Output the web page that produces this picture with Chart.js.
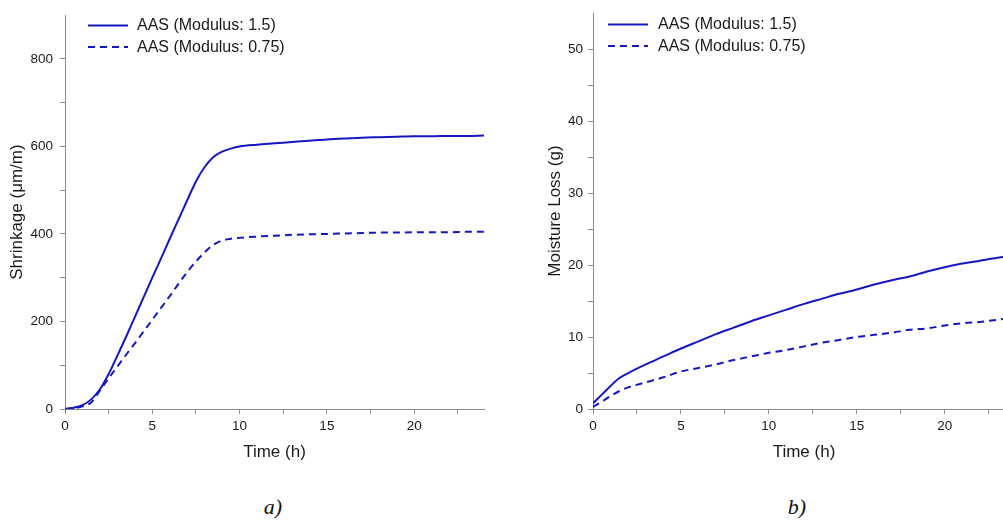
<!DOCTYPE html>
<html>
<head>
<meta charset="utf-8">
<script src="https://cdn.jsdelivr.net/npm/chart.js@4.4.1/dist/chart.umd.min.js"></script>
<style>
  html, body { margin: 0; padding: 0; background: #fff; overflow: hidden; }
  body { width: 1003px; height: 522px; position: relative; }
  canvas { position: absolute; top: 0; }
  #cvA { left: 0; }
  #cvB { left: 538px; }
  .cap { position: absolute; top: 494px; width: 40px; margin-left: -20px; text-align: center;
         font: italic 22px "Liberation Serif", "DejaVu Serif", serif; color: #111; }
</style>
</head>
<body>
<canvas id="cvA" width="500" height="470"></canvas>
<canvas id="cvB" width="487" height="470"></canvas>
<div class="cap" style="left:273px">a)</div>
<div class="cap" style="left:797px">b)</div>
<script>
// labels
const seriesLabels = ["AAS (Modulus: 1.5)", "AAS (Modulus: 0.75)"];

// a) shrinkage (um/m) vs time (h)
const timeA = [0, 0.5, 1, 1.5, 2, 2.5, 3, 3.5, 4, 4.5, 5, 5.5, 6, 6.5, 7, 7.5, 8, 8.5, 9, 9.5, 10,
               11, 12, 13, 14, 15, 16, 17, 18, 19, 20, 21, 22, 23, 24];
const shrink15 = [0, 3, 9, 22, 45, 80, 122, 165, 210, 255, 300, 344, 389, 433, 477, 520, 553, 576, 588, 595, 600,
                  604, 607, 610, 613, 616, 618, 620, 621, 622, 623, 623, 624, 624, 625];
const shrink075 = [0, 2, 6, 15, 42, 70, 97, 124, 150, 177, 204, 231, 258, 286, 313, 337, 358, 375, 385, 389, 391,
                   394, 396, 398, 399, 400, 401, 402, 403, 403, 404, 404, 404, 405, 405];

// b) moisture loss (g) vs time (h)
const timeB = [0, 0.5, 1, 1.5, 2, 3, 4, 5, 6, 7, 8, 9, 10, 11, 12, 13, 14, 15, 16, 17, 18, 19, 20, 21, 22, 23, 24];
const loss15 = [0.8, 2.0, 3.2, 4.3, 5.0, 6.2, 7.3, 8.4, 9.4, 10.4, 11.3, 12.2, 13.0, 13.8, 14.6, 15.3, 16.0,
                16.6, 17.3, 17.9, 18.4, 19.1, 19.7, 20.2, 20.6, 21.0, 21.5];
const loss075 = [0.3, 1.0, 1.8, 2.5, 3.0, 3.7, 4.4, 5.2, 5.7, 6.2, 6.8, 7.3, 7.8, 8.2, 8.7, 9.2, 9.6,
                 10.0, 10.3, 10.6, 11.0, 11.2, 11.6, 11.9, 12.1, 12.4, 12.7];

const BLUE = "#1717c2";
const AXIS = "#8a8a8a";
const TXT = "#1a1a1a";
const FONT = "'Liberation Sans', Arial, sans-serif";

function pts(xs, ys) { return xs.map((x, i) => ({x: x, y: ys[i]})); }

// legend drawn inside the plot area, top left
const insideLegend = {
  id: "insideLegend",
  afterDraw(chart, args, opts) {
    const ctx = chart.ctx, ca = chart.chartArea;
    ctx.save();
    ctx.font = "16px " + FONT;
    ctx.textBaseline = "middle";
    ctx.fillStyle = TXT;
    chart.data.datasets.forEach((ds, i) => {
      const y = ca.top + opts.y + i * opts.gap;
      ctx.strokeStyle = ds.borderColor;
      ctx.lineWidth = ds.borderWidth;
      ctx.setLineDash(ds.borderDash || []);
      ctx.beginPath();
      ctx.moveTo(ca.left + opts.x, y);
      ctx.lineTo(ca.left + opts.x + 40, y);
      ctx.stroke();
      ctx.setLineDash([]);
      ctx.fillText(ds.label, ca.left + opts.x + opts.tx, y);
    });
    ctx.restore();
  }
};

function makeChart(id, xs, a, b, ymax, ystep, ylabel, yTitlePad, tickPad, padRight, legendPos) {
  return new Chart(document.getElementById(id), {
    type: "line",
    data: {
      datasets: [
        {label: seriesLabels[0], data: pts(xs, a), borderColor: BLUE, borderWidth: 2,
         pointRadius: 0, cubicInterpolationMode: "monotone", fill: false},
        {label: seriesLabels[1], data: pts(xs, b), borderColor: BLUE, borderWidth: 2, borderDash: [7, 5],
         pointRadius: 0, cubicInterpolationMode: "monotone", fill: false}
      ]
    },
    options: {
      responsive: false,
      animation: false,
      layout: {padding: {top: 12, right: padRight, bottom: 0, left: 0}},
      plugins: {legend: {display: false}, tooltip: {enabled: false}, insideLegend: legendPos},
      scales: {
        x: {
          type: "linear", min: 0, max: 24,
          afterFit(s) { s.height = 61; },
          border: {color: AXIS, width: 1},
          grid: {drawOnChartArea: false, tickLength: 5,
                 tickColor: c => c.tick && c.tick.value === 24 ? "rgba(0,0,0,0)" : AXIS},
          ticks: {stepSize: 2.5, autoSkip: false, maxRotation: 0, padding: 4, color: TXT,
                  font: {family: FONT, size: 13.5},
                  callback: v => v % 5 === 0 ? v : ""},
          title: {display: true, text: "Time (h)", color: TXT, padding: {top: 0, bottom: 7},
                  font: {family: FONT, size: 17}}
        },
        y: {
          min: 0, max: ymax,
          afterFit(s) { s.width = 55 + yTitlePad; },
          border: {color: AXIS, width: 1},
          grid: {drawOnChartArea: false, tickLength: 5,
                 tickColor: c => c.tick && c.tick.value === ymax ? "rgba(0,0,0,0)" : AXIS},
          ticks: {stepSize: ystep / 2, autoSkip: false, padding: tickPad, color: TXT,
                  font: {family: FONT, size: 13.5},
                  callback: v => v % ystep === 0 ? v : ""},
          title: {display: true, text: ylabel, color: TXT, padding: {top: 7, bottom: 0},
                  font: {family: FONT, size: 17}}
        }
      }
    },
    plugins: [insideLegend]
  });
}

makeChart("cvA", timeA, shrink15, shrink075, 900, 200, "Shrinkage (\u03bcm/m)", 10, 7, 16,
          {x: 23, y: 10.5, gap: 21.5, tx: 49});
makeChart("cvB", timeB, loss15, loss075, 55, 10, "Moisture Loss (g)", 0, 5, 10,
          {x: 15, y: 11.5, gap: 21.5, tx: 50});
</script>
</body>
</html>
